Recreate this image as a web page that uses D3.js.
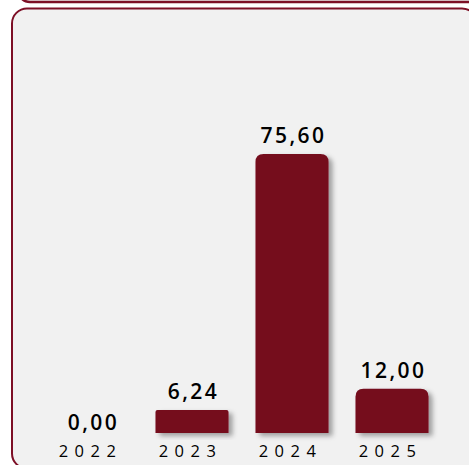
<!DOCTYPE html>
<html>
<head>
<meta charset="utf-8">
<script src="https://cdn.jsdelivr.net/npm/d3@7"></script>
<style>
  body { margin: 0; background: #fff; }
  svg { display: block; }
</style>
</head>
<body>
<div id="chart"></div>
<script>
const years = ["2022", "2023", "2024", "2025"];
const values = [0, 6.24, 75.6, 12];
const valueLabels = ["0,00", "6,24", "75,60", "12,00"];

const size = { x: 469, y: 465 };
const baseline = 433;
const barColor = "#740a1d";
const borderColor = "#7d0f26";

const svg = d3.select("#chart")
  .append("svg")
  .attr("width", size.x)
  .attr("height", size.y);

const defs = svg.append("defs");
defs.append("filter")
  .attr("id", "shadow")
  .attr("x", "-20%").attr("y", "-20%")
  .attr("width", "150%").attr("height", "150%")
  .append("feDropShadow")
  .attr("dx", 4)
  .attr("dy", 3)
  .attr("stdDeviation", 2.5)
  .attr("flood-color", "#000")
  .attr("flood-opacity", 0.35);

// card above (only its bottom edge shows)
svg.append("rect")
  .attr("x", 18).attr("y", -40)
  .attr("width", 480).attr("height", 42)
  .attr("rx", 12)
  .attr("fill", "#f1f1f1")
  .attr("stroke", borderColor)
  .attr("stroke-width", 2.5);

// main card
svg.append("rect")
  .attr("x", 12).attr("y", 8.5)
  .attr("width", 465).attr("height", 460)
  .attr("rx", 15)
  .attr("fill", "#f1f1f1")
  .attr("stroke", borderColor)
  .attr("stroke-width", 2);

const xScale = d3.scaleBand()
  .domain(years)
  .range([42, 442])
  .paddingInner(0.27)
  .paddingOuter(0.135);

const yScale = d3.scaleLinear()
  .domain([0, d3.max(values)])
  .range([baseline, 154]);

const topRounded = (x, y, w, h, r) => {
  r = Math.min(r, h, w / 2);
  return `M${x},${y + h}V${y + r}Q${x},${y} ${x + r},${y}H${x + w - r}Q${x + w},${y} ${x + w},${y + r}V${y + h}Z`;
};

const data = years.map((y, i) => ({ year: y, value: values[i], label: valueLabels[i] }));

svg.append("g")
  .selectAll("path")
  .data(data.filter(d => d.value > 0))
  .enter()
  .append("path")
  .attr("d", d => {
    const h = baseline - yScale(d.value);
    return topRounded(xScale(d.year), yScale(d.value), xScale.bandwidth(), h, h > 30 ? 8 : 2);
  })
  .attr("fill", barColor)
  .attr("filter", "url(#shadow)");

svg.append("g")
  .selectAll("text")
  .data(data)
  .enter()
  .append("text")
  .attr("x", d => xScale(d.year) + xScale.bandwidth() / 2 + 1.5)
  .attr("y", d => d.value > 0 ? yScale(d.value) - 11 : baseline - 3)
  .attr("text-anchor", "middle")
  .attr("font-family", "'Open Sans', sans-serif")
  .attr("font-size", "21px")
  .attr("font-weight", 600)
  .attr("letter-spacing", "2.5px")
  .attr("fill", "#000")
  .text(d => d.label);

svg.append("g")
  .selectAll("text")
  .data(data)
  .enter()
  .append("text")
  .attr("x", d => xScale(d.year) + xScale.bandwidth() / 2 - 1.5)
  .attr("y", 457)
  .attr("text-anchor", "middle")
  .attr("font-family", "'Open Sans', sans-serif")
  .attr("font-size", "16.5px")
  .attr("letter-spacing", "6.5px")
  .attr("fill", "#000")
  .text(d => d.year);
</script>
</body>
</html>
